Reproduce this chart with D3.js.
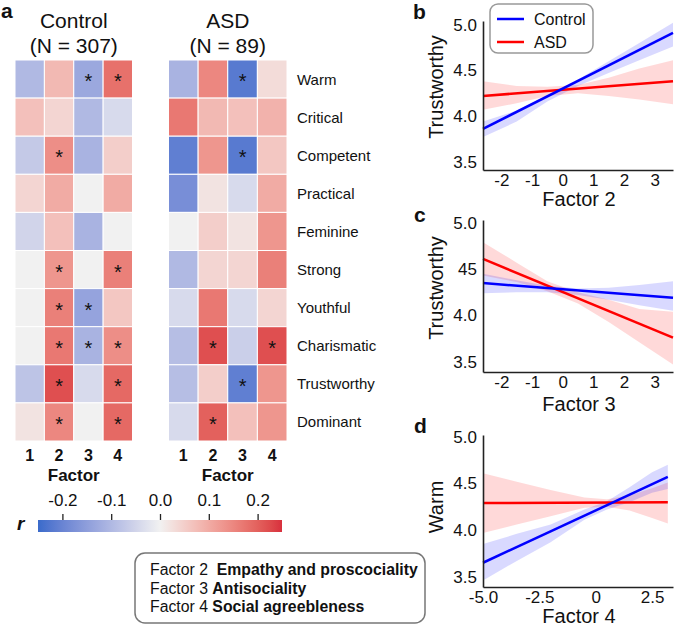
<!DOCTYPE html>
<html>
<head>
<meta charset="utf-8">
<script src="https://cdn.jsdelivr.net/npm/d3@7"></script>
<style>
  body { margin: 0; background: #fff; }
  text { font-family: "Liberation Sans", Arial, sans-serif; fill: #111; }
</style>
</head>
<body>
<div id="chart"></div>
<script>
// heatmap data
let traits = ['Warm', 'Critical', 'Competent', 'Practical', 'Feminine',
              'Strong', 'Youthful', 'Charismatic', 'Trustworthy', 'Dominant'];
let factors = [1, 2, 3, 4];

let control_r = [
  [-0.10, 0.08, -0.13, 0.18],
  [ 0.07, 0.04, -0.10, -0.04],
  [-0.07, 0.14, -0.11, 0.05],
  [ 0.04, 0.10, 0.00, 0.10],
  [-0.05, 0.07, -0.11, 0.00],
  [ 0.00, 0.13, 0.00, 0.16],
  [ 0.00, 0.16, -0.14, 0.06],
  [ 0.00, 0.17, -0.11, 0.14],
  [-0.08, 0.22, -0.04, 0.19],
  [ 0.02, 0.15, 0.00, 0.19]
];
let control_sig = [
  [0,0,1,1],[0,0,0,0],[0,1,0,0],[0,0,0,0],[0,0,0,0],
  [0,1,0,1],[0,1,1,0],[0,1,1,1],[0,1,0,1],[0,1,0,1]
];

let asd_r = [
  [-0.11, 0.15, -0.22, 0.03],
  [ 0.17, 0.08, 0.07, 0.09],
  [-0.21, 0.13, -0.22, 0.06],
  [-0.18, 0.02, -0.04, 0.10],
  [ 0.00, 0.05, 0.02, 0.13],
  [-0.10, 0.04, 0.04, 0.16],
  [-0.04, 0.17, -0.04, 0.04],
  [-0.09, 0.22, -0.06, 0.22],
  [-0.09, 0.05, -0.21, 0.13],
  [-0.04, 0.20, 0.07, 0.13]
];
let asd_sig = [
  [0,0,1,0],[0,0,0,0],[0,0,1,0],[0,0,0,0],[0,0,0,0],
  [0,0,0,0],[0,0,0,0],[0,1,0,1],[0,0,1,0],[0,1,0,0]
];

let cbar_ticks = [-0.2, -0.1, 0.0, 0.1, 0.2];

// regression panels
let b_line_x = [-2.6, 3.6];
let b_control_y = [3.86, 4.91];
let b_asd_y = [4.22, 4.38];
let b_band_x = [-2.6, -1.5, -0.5, 0.5, 1.5, 2.5, 3.6];
let b_control_lo = [3.77, 3.94, 4.16, 4.33, 4.47, 4.61, 4.76];
let b_control_hi = [3.94, 4.06, 4.23, 4.40, 4.60, 4.80, 5.02];
let b_asd_lo = [4.07, 4.14, 4.22, 4.25, 4.22, 4.18, 4.13];
let b_asd_hi = [4.38, 4.33, 4.32, 4.34, 4.42, 4.52, 4.61];

let c_line_x = [-2.6, 3.6];
let c_control_y = [4.35, 4.19];
let c_asd_y = [4.61, 3.76];
let c_band_x = [-2.6, -1.5, -0.5, 0.5, 1.5, 2.5, 3.6];
let c_control_lo = [4.24, 4.25, 4.25, 4.22, 4.17, 4.11, 4.05];
let c_control_hi = [4.45, 4.38, 4.32, 4.29, 4.30, 4.33, 4.37];
let c_asd_lo = [4.43, 4.36, 4.26, 4.13, 3.93, 3.71, 3.47];
let c_asd_hi = [4.79, 4.57, 4.37, 4.25, 4.17, 4.07, 4.04];

let d_line_x = [-5, 3.2];
let d_control_y = [3.65, 4.57];
let d_asd_y = [4.29, 4.30];
let d_band_x = [-5, -3.5, -2, -0.5, 0.5, 1.5, 2.5, 3.2];
let d_control_lo = [3.46, 3.67, 3.87, 4.11, 4.22, 4.30, 4.40, 4.44];
let d_control_hi = [3.85, 3.96, 4.06, 4.22, 4.31, 4.46, 4.62, 4.70];
let d_asd_lo = [3.97, 4.06, 4.15, 4.24, 4.25, 4.21, 4.13, 4.07];
let d_asd_hi = [4.61, 4.52, 4.43, 4.35, 4.33, 4.37, 4.45, 4.51];

let y_ticks = [3.5, 4.0, 4.5, 5.0];
let b_y_labels = ['3.5', '4.0', '4.5', '5.0'];
let c_y_labels = ['3.5', '4.0', '45', '5.0'];
let d_y_labels = ['3.5', '4.0', '4.5', '5.0'];
let bc_x_ticks = [-2, -1, 0, 1, 2, 3];
let d_x_ticks = [-5.0, -2.5, 0, 2.5];
let d_x_labels = ['-5.0', '-2.5', '0', '2.5'];

let factor_names = [
  ['Factor 2', 'Empathy and proscociality'],
  ['Factor 3', 'Antisociality'],
  ['Factor 4', 'Social agreebleness']
];

let chart_width = 674;
let chart_height = 626;

let svg = d3.select('#chart')
  .append('svg')
  .attr('width', chart_width)
  .attr('height', chart_height);

//colour
let color = d3.scaleLinear()
  .domain([-0.25, 0, 0.25])
  .range(['#3a6bcb', '#f1f1f1', '#d8303d'])
  .interpolate(d3.interpolateLab)
  .clamp(true);

//heatmaps
let y_band = d3.scaleBand().domain(traits).range([60, 441]);

function heatmap(x0, x1, values, sig, title, n_text) {
  let x_band = d3.scaleBand().domain(factors).range([x0, x1]);
  let g = svg.append('g');
  let cells = [];
  values.forEach((row, i) => row.forEach((v, j) => cells.push({ t: traits[i], f: factors[j], v: v, s: sig[i][j] })));

  g.selectAll('rect')
    .data(cells)
    .enter()
    .append('rect')
    .attr('x', d => x_band(d.f))
    .attr('y', d => y_band(d.t))
    .attr('width', x_band.bandwidth())
    .attr('height', y_band.bandwidth())
    .attr('fill', d => color(d.v))
    .attr('stroke', '#fff')
    .attr('stroke-width', 1);

  g.selectAll('.star')
    .data(cells.filter(d => d.s))
    .enter()
    .append('text')
    .attr('class', 'star')
    .attr('x', d => x_band(d.f) + x_band.bandwidth() / 2)
    .attr('y', d => y_band(d.t) + y_band.bandwidth() / 2 + 9)
    .attr('text-anchor', 'middle')
    .style('font-size', '20px')
    .text('*');

  g.selectAll('.fnum')
    .data(factors)
    .enter()
    .append('text')
    .attr('x', d => x_band(d) + x_band.bandwidth() / 2)
    .attr('y', 461)
    .attr('text-anchor', 'middle')
    .style('font-size', '16px')
    .style('font-weight', 'bold')
    .text(d => d);

  let cx = (x0 + x1) / 2;
  g.append('text').attr('x', cx).attr('y', 481).attr('text-anchor', 'middle')
    .style('font-size', '17px').style('font-weight', 'bold').text('Factor');
  g.append('text').attr('x', cx).attr('y', 28).attr('text-anchor', 'middle')
    .style('font-size', '21px').text(title);
  g.append('text').attr('x', cx).attr('y', 53).attr('text-anchor', 'middle')
    .style('font-size', '21px').text(n_text);
}

heatmap(15, 132.5, control_r, control_sig, 'Control', '(N = 307)');
heatmap(168.5, 287, asd_r, asd_sig, 'ASD', '(N = 89)');

svg.append('g')
  .selectAll('text')
  .data(traits)
  .enter()
  .append('text')
  .attr('x', 297)
  .attr('y', d => y_band(d) + y_band.bandwidth() / 2 + 5.5)
  .style('font-size', '15px')
  .text(d => d);

//colorbar
let cb_scale = d3.scaleLinear().domain([-0.25, 0.25]).range([38, 282]);
let grad = svg.append('defs').append('linearGradient').attr('id', 'cbar');
d3.range(0, 1.0001, 0.05).forEach(t => {
  grad.append('stop').attr('offset', t).attr('stop-color', color(-0.25 + 0.5 * t));
});
svg.append('rect')
  .attr('x', 38).attr('y', 520).attr('width', 244).attr('height', 12)
  .attr('fill', 'url(#cbar)');
let cb_axis = d3.axisTop(cb_scale)
  .tickValues(cbar_ticks)
  .tickSize(6)
  .tickPadding(8)
  .tickFormat(d => d.toFixed(1));
let cb_g = svg.append('g')
  .attr('transform', 'translate(0,520)')
  .call(cb_axis);
cb_g.select('.domain').remove();
cb_g.selectAll('line').attr('stroke', '#222').attr('stroke-width', 1.3);
cb_g.selectAll('text').style('font-size', '17px').attr('fill', '#111')
  .style('font-family', '"Liberation Sans", Arial, sans-serif');
svg.append('text').attr('x', 17).attr('y', 530)
  .style('font-size', '19px').style('font-weight', 'bold').style('font-style', 'italic').text('r');

//factor legend
svg.append('rect')
  .attr('x', 135).attr('y', 553).attr('width', 290).attr('height', 70).attr('rx', 10)
  .attr('fill', '#fff').attr('stroke', '#777').attr('stroke-width', 1.5);
let fl = svg.append('g');
factor_names.forEach((f, i) => {
  let t = fl.append('text').attr('x', 150).attr('y', 575 + i * 18.5).style('font-size', '15.8px');
  t.append('tspan').text(f[0] + (i === 0 ? '\u00a0 ' : ' '));
  t.append('tspan').style('font-weight', 'bold').text(f[1]);
});

//panel letters
[['a', 1, 18], ['b', 413, 19], ['c', 414, 222], ['d', 414, 433]].forEach(p => {
  svg.append('text').attr('x', p[1]).attr('y', p[2])
    .style('font-size', '21px').style('font-weight', 'bold').text(p[0]);
});

//regression panels
function panel(opt) {
  let x = d3.scaleLinear().domain(opt.x_dom).range([483, 673]);
  let y = d3.scaleLinear().domain(opt.y_dom).range([opt.bottom, opt.top]);
  let g = svg.append('g');

  let area = d3.area()
    .x(d => x(d[0]))
    .y0(d => y(d[1]))
    .y1(d => y(d[2]));
  let line = d3.line().x(d => x(d[0])).y(d => y(d[1]));

  let bands = [
    [opt.asd_lo, opt.asd_hi, 'rgba(255,0,0,0.15)'],
    [opt.ctl_lo, opt.ctl_hi, 'rgba(0,0,255,0.15)']
  ];
  bands.forEach(b => {
    g.append('path')
      .datum(opt.band_x.map((v, i) => [v, b[0][i], b[1][i]]))
      .attr('d', area)
      .attr('fill', b[2]);
  });
  [[opt.asd_y, '#ff0000'], [opt.ctl_y, '#0000ff']].forEach(l => {
    g.append('path')
      .datum(opt.line_x.map((v, i) => [v, l[0][i]]))
      .attr('d', line)
      .attr('fill', 'none')
      .attr('stroke', l[1])
      .attr('stroke-width', 2.5);
  });

  let xa = g.append('g')
    .attr('transform', 'translate(0,' + opt.bottom + ')')
    .call(d3.axisBottom(x).tickValues(opt.x_ticks).tickSize(0).tickPadding(4)
      .tickFormat((d, i) => opt.x_labels ? opt.x_labels[i] : String(d)));
  let ya = g.append('g')
    .attr('transform', 'translate(483,0)')
    .call(d3.axisLeft(y).tickValues(y_ticks).tickSize(0).tickPadding(6)
      .tickFormat((d, i) => opt.y_labels[i]));
  [xa, ya].forEach(a => {
    a.select('.domain').attr('stroke', '#222').attr('stroke-width', 1.6);
    a.selectAll('text').style('font-size', '17px').attr('fill', '#111')
      .style('font-family', '"Liberation Sans", Arial, sans-serif');
  });

  g.append('text').attr('x', 579).attr('y', opt.xlab_y).attr('text-anchor', 'middle')
    .style('font-size', '20px').text(opt.xlab);
  g.append('text')
    .attr('transform', 'translate(443,' + opt.ylab_y + ') rotate(-90)')
    .attr('text-anchor', 'middle')
    .style('font-size', '20px').text(opt.ylab);
}

panel({
  x_dom: [-2.6, 3.6], y_dom: [3.41, 5.04], top: 21, bottom: 170,
  line_x: b_line_x, ctl_y: b_control_y, asd_y: b_asd_y,
  band_x: b_band_x, ctl_lo: b_control_lo, ctl_hi: b_control_hi, asd_lo: b_asd_lo, asd_hi: b_asd_hi,
  x_ticks: bc_x_ticks, y_labels: b_y_labels,
  xlab: 'Factor 2', xlab_y: 206, ylab: 'Trustworthy', ylab_y: 87
});
panel({
  x_dom: [-2.6, 3.6], y_dom: [3.39, 5.03], top: 220, bottom: 372,
  line_x: c_line_x, ctl_y: c_control_y, asd_y: c_asd_y,
  band_x: c_band_x, ctl_lo: c_control_lo, ctl_hi: c_control_hi, asd_lo: c_asd_lo, asd_hi: c_asd_hi,
  x_ticks: bc_x_ticks, y_labels: c_y_labels,
  xlab: 'Factor 3', xlab_y: 411, ylab: 'Trustworthy', ylab_y: 288
});
panel({
  x_dom: [-5, 3.43], y_dom: [3.39, 5.02], top: 435, bottom: 587,
  line_x: d_line_x, ctl_y: d_control_y, asd_y: d_asd_y,
  band_x: d_band_x, ctl_lo: d_control_lo, ctl_hi: d_control_hi, asd_lo: d_asd_lo, asd_hi: d_asd_hi,
  x_ticks: d_x_ticks, x_labels: d_x_labels, y_labels: d_y_labels,
  xlab: 'Factor 4', xlab_y: 623, ylab: 'Warm', ylab_y: 507
});

//legend in b
let lg = svg.append('g');
lg.append('rect').attr('x', 490).attr('y', 4).attr('width', 103).attr('height', 49).attr('rx', 8)
  .attr('fill', '#fff').attr('stroke', '#999').attr('stroke-width', 1.5);
[['Control', '#0000ff', 19], ['ASD', '#ff0000', 42]].forEach(e => {
  lg.append('line').attr('x1', 497).attr('x2', 524).attr('y1', e[2]).attr('y2', e[2])
    .attr('stroke', e[1]).attr('stroke-width', 2.5);
  lg.append('text').attr('x', 534).attr('y', e[2] + 6).style('font-size', '16px').text(e[0]);
});
</script>
</body>
</html>
